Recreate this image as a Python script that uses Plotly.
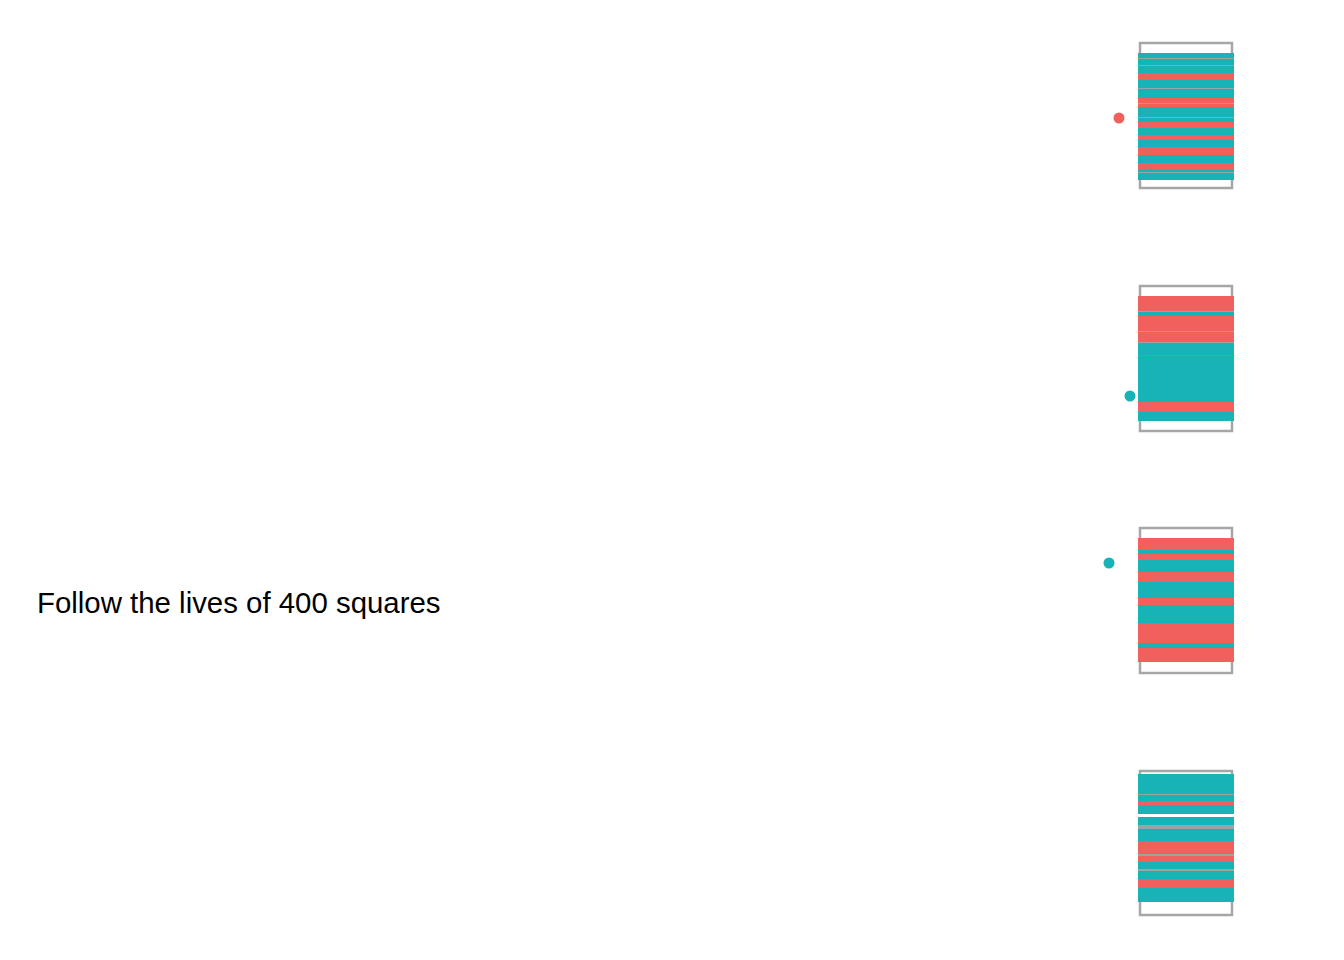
import plotly.graph_objects as go

RED = "#F1605D"
TEAL = "#17B3B6"
GRAY = "#9AA4A4"
BOX = "#A6A6A6"

# Panel boxes (top, bottom) in page pixels
box_tops = [43, 286, 528, 771]
box_bottoms = [188, 431, 673, 915]
fill_starts = [53, 296, 538, 774]

# Runs of stripes per panel: colour key and height
p1_colors = ["t", "g", "t", "g", "t", "r", "t", "g", "t", "r", "g", "r", "t", "g", "t", "r", "t", "r", "t", "r", "t", "r", "t", "g", "t"]
p1_heights = [5, 1, 6, 1, 7, 7, 8, 1, 9, 5, 1, 3, 10, 1, 4, 6, 7, 5, 7, 8, 8, 7, 2, 1, 7]

p2_colors = ["r", "g", "t", "r", "g", "r", "g", "t", "r", "t", "r", "t"]
p2_heights = [15, 1, 4, 15, 1, 10, 1, 12, 1, 46, 10, 9]

p3_colors = ["r", "t", "r", "t", "r", "t", "r", "t", "r", "t", "r"]
p3_heights = [12, 4, 6, 12, 10, 16, 7, 18, 20, 5, 14]

p4_colors = ["t", "g", "t", "r", "t", "w", "t", "g", "t", "r", "g", "r", "t", "g", "t", "r", "t"]
p4_heights = [20, 1, 6, 4, 9, 3, 8, 4, 12, 13, 2, 6, 7, 2, 8, 9, 14]

panels_colors = [p1_colors, p2_colors, p3_colors, p4_colors]
panels_heights = [p1_heights, p2_heights, p3_heights, p4_heights]

# Dots beside panels
dot_x = [1119, 1130, 1109]
dot_y = [118, 396, 563]
dot_colors = ["r", "t", "t"]

cmap = {"r": RED, "t": TEAL, "g": GRAY, "w": "#FFFFFF"}

fig = go.Figure()

for top, bot in zip(box_tops, box_bottoms):
    fig.add_shape(type="rect", x0=1140, x1=1232, y0=top, y1=bot, xref="x", yref="y",
                  line=dict(color=BOX, width=2.5), fillcolor="rgba(0,0,0,0)", layer="below")

for start, cols, hs in zip(fill_starts, panels_colors, panels_heights):
    bases = []
    c = start
    for h in hs:
        bases.append(c)
        c += h
    fig.add_trace(go.Bar(
        x=[1186] * len(hs), y=hs, base=bases, width=96,
        marker=dict(color=[cmap[k] for k in cols], line=dict(width=0)),
        showlegend=False, hoverinfo="skip"))

fig.add_trace(go.Scatter(
    x=dot_x, y=dot_y, mode="markers",
    marker=dict(size=11, color=[cmap[k] for k in dot_colors]),
    showlegend=False, hoverinfo="skip"))

fig.add_annotation(
    x=35, y=602, xref="x", yref="y", text="Follow the lives of 400 squares",
    showarrow=False, xanchor="left", yanchor="middle",
    font=dict(family="Liberation Sans, Arial", size=29.4, color="#000000"))

fig.update_layout(
    width=1344, height=960, margin=dict(l=0, r=0, t=0, b=0),
    paper_bgcolor="white", plot_bgcolor="white", barmode="overlay", bargap=0,
    xaxis=dict(range=[0, 1344], visible=False, fixedrange=True),
    yaxis=dict(range=[960, 0], visible=False, fixedrange=True),
)

fig.write_html("out.html")
